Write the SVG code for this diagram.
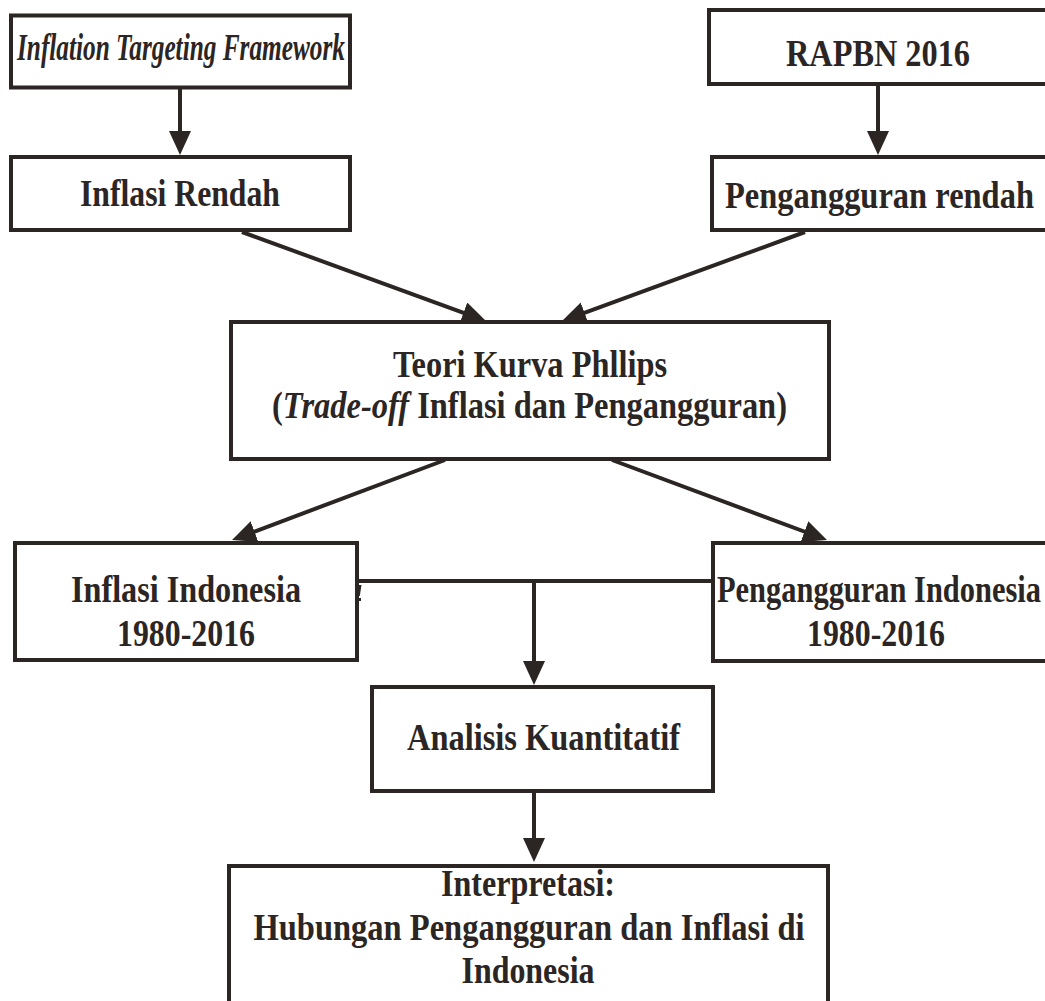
<svg xmlns="http://www.w3.org/2000/svg" width="1045" height="1001" viewBox="0 0 1045 1001">
<defs>
<style>
.box{fill:#ffffff;stroke:#2b2523;stroke-width:4}
.ln{fill:none;stroke:#2b2523;stroke-width:4}
.t{font-family:"Liberation Serif","Times New Roman",serif;font-weight:bold;font-size:38px;fill:#2b2523;text-anchor:middle}
.it{font-style:italic}
</style>
<marker id="ah" markerUnits="userSpaceOnUse" markerWidth="26" markerHeight="24" refX="14" refY="11" orient="auto">
<path d="M0,0 L24,11 L0,22 Z" fill="#2b2523"/>
</marker>
</defs>
<rect width="1045" height="1001" fill="#ffffff"/>

<g id="connectors">
<line class="ln" x1="180" y1="88" x2="180" y2="145" marker-end="url(#ah)"/>
<line class="ln" x1="878" y1="85" x2="878" y2="145" marker-end="url(#ah)"/>
<line class="ln" x1="242" y1="232" x2="476.6" y2="317.6" marker-end="url(#ah)"/>
<line class="ln" x1="805" y1="232" x2="571.4" y2="317.6" marker-end="url(#ah)"/>
<line class="ln" x1="445" y1="460" x2="241.4" y2="536.5" marker-end="url(#ah)"/>
<line class="ln" x1="612" y1="460" x2="817.6" y2="536.5" marker-end="url(#ah)"/>
<line class="ln" x1="357" y1="581" x2="713" y2="581"/>
<line class="ln" x1="534" y1="581" x2="534" y2="675" marker-end="url(#ah)"/>
<line class="ln" x1="534" y1="791" x2="534" y2="852" marker-end="url(#ah)"/>
<path d="M357,585 L361.5,585 L359.8,596 L358.2,596 Z M358,598 h3 v3 h-3 Z" fill="#2b2523"/>
</g>

<g id="n-itf">
<rect class="box" x="11" y="15.5" width="339" height="72"/>
<text class="t it" x="181" y="60" font-size="26" textLength="328" lengthAdjust="spacingAndGlyphs">Inflation Targeting Framework</text>
</g>

<g id="n-inflasi-rendah">
<rect class="box" x="11" y="157" width="339" height="73"/>
<text class="t" x="180" y="206" textLength="200" lengthAdjust="spacingAndGlyphs">Inflasi Rendah</text>
</g>

<g id="n-rapbn">
<rect class="box" x="709" y="10" width="345" height="74"/>
<text class="t" x="878" y="66" textLength="184" lengthAdjust="spacingAndGlyphs">RAPBN 2016</text>
</g>

<g id="n-pengangguran-rendah">
<rect class="box" x="712" y="157" width="345" height="73"/>
<text class="t" x="879.5" y="208" textLength="309" lengthAdjust="spacingAndGlyphs">Pengangguran rendah</text>
</g>

<g id="n-teori">
<rect class="box" x="231" y="322" width="598" height="137"/>
<text class="t" x="530" y="377" textLength="274" lengthAdjust="spacingAndGlyphs">Teori Kurva Phllips</text>
<text class="t" x="529.5" y="418" textLength="515" lengthAdjust="spacingAndGlyphs">(<tspan class="it">Trade-off</tspan> Inflasi dan Pengangguran)</text>
</g>

<g id="n-inflasi-indonesia">
<rect class="box" x="15" y="543" width="342" height="117"/>
<text class="t" x="186" y="602" textLength="230" lengthAdjust="spacingAndGlyphs">Inflasi Indonesia</text>
<text class="t" x="186" y="646" textLength="138" lengthAdjust="spacingAndGlyphs">1980-2016</text>
</g>

<g id="n-pengangguran-indonesia">
<rect class="box" x="713" y="543" width="345" height="118"/>
<text class="t" x="879" y="602" textLength="324" lengthAdjust="spacingAndGlyphs">Pengangguran Indonesia</text>
<text class="t" x="876" y="646" textLength="138" lengthAdjust="spacingAndGlyphs">1980-2016</text>
</g>

<g id="n-analisis">
<rect class="box" x="372" y="687" width="341" height="104"/>
<text class="t" x="543.5" y="750" textLength="273" lengthAdjust="spacingAndGlyphs">Analisis Kuantitatif</text>
</g>

<g id="n-interpretasi">
<rect class="box" x="229" y="866" width="599" height="150"/>
<text class="t" x="528" y="896" textLength="174" lengthAdjust="spacingAndGlyphs">Interpretasi:</text>
<text class="t" x="529" y="940" textLength="551" lengthAdjust="spacingAndGlyphs">Hubungan Pengangguran dan Inflasi di</text>
<text class="t" x="528" y="983" textLength="133" lengthAdjust="spacingAndGlyphs">Indonesia</text>
</g>
</svg>
